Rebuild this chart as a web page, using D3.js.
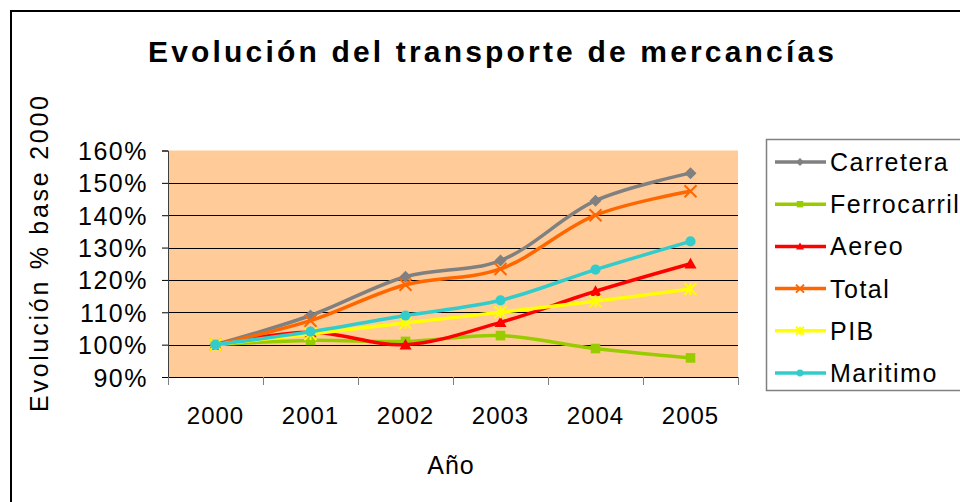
<!DOCTYPE html>
<html>
<head>
<meta charset="utf-8">
<script src="https://cdn.jsdelivr.net/npm/d3@7"></script>
<style>
  body { margin: 0; background: #fff; }
  svg { display: block; font-family: "Liberation Sans", Arial, sans-serif; }
</style>
</head>
<body>
<svg id="chart" width="960" height="502"></svg>
<script>
// ── Data ──
const years = ["2000", "2001", "2002", "2003", "2004", "2005"];
const carretera   = [100, 109, 121, 126, 144.5, 153];
const ferrocarril = [100, 101.3, 101, 102.8, 98.8, 95.9];
const aereo       = [100, 103.8, 100, 106.9, 116.5, 125];
const total       = [100, 107.4, 118.5, 123.4, 140, 147.4];
const pib         = [100, 103.3, 106.7, 110, 113.4, 117.2];
const maritimo    = [100, 104, 109, 113.7, 123.2, 131.9];
const yTicks = [90, 100, 110, 120, 130, 140, 150, 160];

const series = [
  { name: "Carretera",   values: carretera,   color: "#808080", marker: "diamond" },
  { name: "Ferrocarril", values: ferrocarril, color: "#99CC00", marker: "square" },
  { name: "Aereo",       values: aereo,       color: "#FF0000", marker: "triangle" },
  { name: "Total",       values: total,       color: "#FF6600", marker: "x" },
  { name: "PIB",         values: pib,         color: "#FFFF00", marker: "star" },
  { name: "Maritimo",    values: maritimo,    color: "#33CCCC", marker: "circle" }
];

const svg = d3.select("#chart");

// ── Layout ──
const plot = { left: 168, right: 738, top: 150.5, bottom: 377 };

const x = d3.scaleBand().domain(years).range([plot.left, plot.right]);
const y = d3.scaleLinear().domain([90, 160]).range([plot.bottom, plot.top]);

// outer chart border
svg.append("rect")
  .attr("x", 11).attr("y", 11)
  .attr("width", 1000).attr("height", 600)
  .attr("fill", "#fff")
  .attr("stroke", "#000")
  .attr("stroke-width", 2);

// title
svg.append("text")
  .attr("x", 491).attr("y", 62)
  .attr("text-anchor", "middle")
  .attr("font-size", 30)
  .attr("font-weight", "bold")
  .attr("textLength", 686)
  .attr("lengthAdjust", "spacing")
  .text("Evolución del transporte de mercancías");

// plot background
svg.append("rect")
  .attr("x", plot.left).attr("y", plot.top)
  .attr("width", plot.right - plot.left)
  .attr("height", plot.bottom - plot.top)
  .attr("fill", "#FFCC99");

// gridlines
svg.append("g")
  .selectAll("line")
  .data(yTicks.slice(1, -1))
  .join("line")
  .attr("x1", plot.left).attr("x2", plot.right)
  .attr("y1", d => Math.round(y(d)) + 0.5)
  .attr("y2", d => Math.round(y(d)) + 0.5)
  .attr("stroke", "#000")
  .attr("stroke-width", 1);

// y axis
const yAxis = svg.append("g")
  .attr("transform", `translate(${plot.left},0)`)
  .call(d3.axisLeft(y).tickValues(yTicks).tickSize(6).tickPadding(14)
    .tickFormat(d => d + "%"));
yAxis.select(".domain").attr("stroke", "#404040");
yAxis.selectAll(".tick line").attr("stroke", "#000");
yAxis.selectAll("text")
  .attr("font-size", 25)
  .attr("letter-spacing", 1.5)
  .attr("font-family", "Liberation Sans, Arial, sans-serif")
  .attr("fill", "#000")
  .attr("dy", "0.36em");

// x axis
const xAxis = svg.append("g")
  .attr("transform", `translate(0,${plot.bottom})`)
  .call(d3.axisBottom(x).tickSize(0).tickPadding(30));
xAxis.select(".domain").attr("stroke", "#000");
xAxis.selectAll("text")
  .attr("font-size", 24)
  .attr("letter-spacing", 1)
  .attr("font-family", "Liberation Sans, Arial, sans-serif")
  .attr("fill", "#000");
// category boundary ticks
xAxis.append("g")
  .selectAll("line")
  .data(years.concat("end"))
  .join("line")
  .attr("x1", (d, i) => plot.left + i * x.bandwidth() + 0.5)
  .attr("x2", (d, i) => plot.left + i * x.bandwidth() + 0.5)
  .attr("y1", 0).attr("y2", 8)
  .attr("stroke", "#808080");

// axis titles
svg.append("text")
  .attr("x", 451).attr("y", 474)
  .attr("text-anchor", "middle")
  .attr("font-size", 25)
  .attr("letter-spacing", 1)
  .text("Año");

svg.append("text")
  .attr("transform", "translate(48,254) rotate(-90)")
  .attr("text-anchor", "middle")
  .attr("font-size", 25)
  .attr("textLength", 316)
  .attr("lengthAdjust", "spacing")
  .text("Evolución % base 2000");

// ── Lines ──
const line = d3.line()
  .x((d, i) => x(years[i]) + x.bandwidth() / 2)
  .y(d => y(d))
  .curve(d3.curveCatmullRom.alpha(0.5));

function drawMarker(g, type, color, size) {
  const s = size;
  if (type === "diamond") {
    g.append("path").attr("d", `M0,${-s}L${s},0L0,${s}L${-s},0Z`).attr("fill", color);
  } else if (type === "square") {
    g.append("rect").attr("x", -s * 0.8).attr("y", -s * 0.8)
      .attr("width", s * 1.6).attr("height", s * 1.6).attr("fill", color);
  } else if (type === "triangle") {
    g.append("path").attr("d", `M0,${-s}L${s},${s * 0.8}L${-s},${s * 0.8}Z`).attr("fill", color);
  } else if (type === "circle") {
    g.append("circle").attr("r", s * 0.85).attr("fill", color);
  } else if (type === "x") {
    g.append("path").attr("d", `M${-s},${-s}L${s},${s}M${-s},${s}L${s},${-s}`)
      .attr("stroke", color).attr("stroke-width", 2);
  } else if (type === "star") {
    g.append("path")
      .attr("d", `M${-s},${-s}L${s},${s}M${-s},${s}L${s},${-s}M0,${-s}L0,${s}`)
      .attr("stroke", color).attr("stroke-width", 2);
  }
}

const seriesG = svg.append("g");
series.forEach(s => {
  seriesG.append("path")
    .datum(s.values)
    .attr("d", line)
    .attr("fill", "none")
    .attr("stroke", s.color)
    .attr("stroke-width", 3.5)
    .attr("stroke-linejoin", "round");
  s.values.forEach((v, i) => {
    const m = seriesG.append("g")
      .attr("transform", `translate(${x(years[i]) + x.bandwidth() / 2},${y(v)})`);
    drawMarker(m, s.marker, s.color, 6);
  });
});

// ── Legend ──
const legend = svg.append("g");
legend.append("rect")
  .attr("x", 766.5).attr("y", 139.5)
  .attr("width", 300).attr("height", 251)
  .attr("fill", "#fff")
  .attr("stroke", "#808080")
  .attr("stroke-width", 1.5);

series.forEach((s, i) => {
  const ly = 162 + i * 42.2;
  const item = legend.append("g").attr("transform", `translate(0,${ly})`);
  item.append("line")
    .attr("x1", 775).attr("x2", 826)
    .attr("y1", 0).attr("y2", 0)
    .attr("stroke", s.color)
    .attr("stroke-width", 3.5);
  const m = item.append("g").attr("transform", "translate(800,0)");
  drawMarker(m, s.marker, s.color, 4);
  item.append("text")
    .attr("x", 830).attr("y", 0)
    .attr("dy", "0.36em")
    .attr("font-size", 25)
    .attr("letter-spacing", 1.5)
    .text(s.name);
});
</script>
</body>
</html>
